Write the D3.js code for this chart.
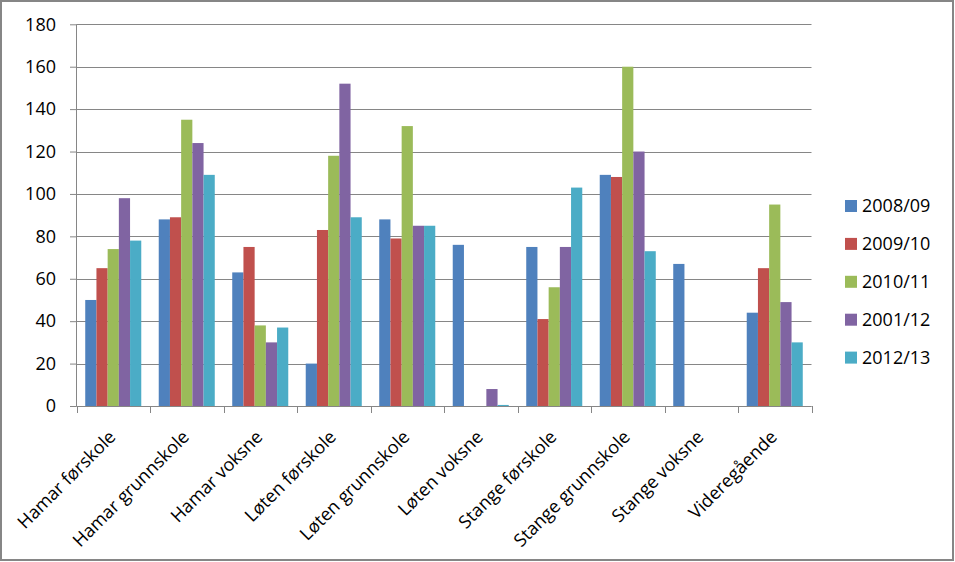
<!DOCTYPE html>
<html>
<head>
<meta charset="utf-8">
<script src="https://d3js.org/d3.v7.min.js"></script>
<style>
    body { margin: 0; background: #fff; }
    svg { display: block; }
    text { font-family: "Open Sans", sans-serif; font-size: 18px; fill: #000; }
</style>
</head>
<body>
<div class="canvas"><svg width="955" height="562"></svg></div>
<script>
    var width = 955;
    var height = 562;

    // data
    var categories = ["Hamar førskole", "Hamar grunnskole", "Hamar voksne", "Løten førskole",
        "Løten grunnskole", "Løten voksne", "Stange førskole", "Stange grunnskole",
        "Stange voksne", "Videregående"];
    var seriesNames = ["2008/09", "2009/10", "2010/11", "2001/12", "2012/13"];
    var s2008 = [50, 88, 63, 20, 88, 76, 75, 109, 67, 44];
    var s2009 = [65, 89, 75, 83, 79, 0, 41, 108, 0, 65];
    var s2010 = [74, 135, 38, 118, 132, 0, 56, 160, 0, 95];
    var s2001 = [98, 124, 30, 152, 85, 8, 75, 120, 0, 49];
    var s2012 = [78, 109, 37, 89, 85, 0.5, 103, 73, 0, 30];
    var yTicks = [0, 20, 40, 60, 80, 100, 120, 140, 160, 180];
    var colors = ["#4F81BD", "#C0504D", "#9BBB59", "#8064A2", "#4BACC6"];

    var allSeries = [s2008, s2009, s2010, s2001, s2012];

    var svg = d3.select(".canvas").select("svg");

    // outer frame
    svg.append("rect")
        .attr("x", 1).attr("y", 1)
        .attr("width", width - 3).attr("height", height - 3)
        .style("fill", "#fff")
        .style("stroke", "#868686")
        .style("stroke-width", 2);

    var plotLeft = 76.5, plotRight = 811.5, plotTop = 24.3, plotBottom = 406;

    var scaleX = d3.scaleBand()
        .domain(categories)
        .range([plotLeft, plotRight])
        .padding(0);

    var scaleSeries = d3.scaleBand()
        .domain(seriesNames)
        .range([0, scaleX.bandwidth()])
        .paddingInner(0)
        .paddingOuter(0.78);

    var scaleY = d3.scaleLinear()
        .domain([0, 180])
        .range([plotBottom, plotTop]);

    var scaleColor = d3.scaleOrdinal()
        .domain(seriesNames)
        .range(colors);

    // gridlines + y axis
    var axisY = d3.axisLeft()
        .scale(scaleY)
        .tickValues(yTicks)
        .tickSize(6.5)
        .tickPadding(14);

    svg.append("g").attr("class", "grid")
        .selectAll("line")
        .data(yTicks)
        .enter()
        .append("line")
        .attr("x1", plotLeft)
        .attr("x2", plotRight)
        .attr("y1", function(d){ return Math.round(scaleY(d)) + 0.5; })
        .attr("y2", function(d){ return Math.round(scaleY(d)) + 0.5; })
        .style("stroke", "#868686")
        .style("stroke-width", 1);

    var gy = svg.append("g").attr("class", "axis axis-y")
        .attr("transform", "translate(" + plotLeft + ",0)")
        .call(axisY);
    gy.select(".domain").remove();
    gy.selectAll("line").style("stroke", "#868686");
    gy.selectAll("text").style("font-family", "'Open Sans', sans-serif").style("font-size", "18px").attr("fill", "#000");

    gy.append("line")
        .attr("x1", 0).attr("x2", 0)
        .attr("y1", plotTop).attr("y2", plotBottom)
        .style("stroke", "#868686");

    // bars
    var rows = [];
    categories.forEach(function(c, i){
        seriesNames.forEach(function(s, j){
            rows.push({cat: c, series: s, value: allSeries[j][i]});
        });
    });

    svg.append("g").attr("class", "bars")
        .selectAll("rect")
        .data(rows)
        .enter()
        .append("rect")
        .attr("x", function(d){ return scaleX(d.cat) + scaleSeries(d.series); })
        .attr("width", scaleSeries.bandwidth())
        .attr("y", function(d){ return scaleY(d.value); })
        .attr("height", function(d){ return plotBottom - scaleY(d.value); })
        .style("fill", function(d){ return scaleColor(d.series); });

    // x axis: ticks at band edges, rotated labels
    var gx = svg.append("g").attr("class", "axis axis-x");
    gx.append("line")
        .attr("x1", plotLeft).attr("x2", plotRight)
        .attr("y1", plotBottom + 0.5).attr("y2", plotBottom + 0.5)
        .style("stroke", "#868686");

    var edges = categories.map(function(c){ return scaleX(c); }).concat([plotRight]);
    gx.selectAll(".tick-edge")
        .data(edges)
        .enter()
        .append("line").attr("class", "tick-edge")
        .attr("x1", function(d){ return Math.round(d) + 0.5; })
        .attr("x2", function(d){ return Math.round(d) + 0.5; })
        .attr("y1", plotBottom)
        .attr("y2", plotBottom + 7)
        .style("stroke", "#868686");

    gx.selectAll(".label")
        .data(categories)
        .enter()
        .append("text").attr("class", "label")
        .attr("transform", function(d){
            var cx = scaleX(d) + scaleX.bandwidth() / 2 + 3.5;
            return "translate(" + cx + "," + (plotBottom + 32) + ") rotate(-45)";
        })
        .attr("text-anchor", "end")
        .text(function(d){ return d; });

    // legend
    var legend = svg.append("g").attr("class", "legend")
        .attr("transform", "translate(845,200)");

    var item = legend.selectAll(".item")
        .data(seriesNames)
        .enter()
        .append("g").attr("class", "item")
        .attr("transform", function(d, i){ return "translate(0," + (i * 37.9) + ")"; });

    item.append("rect")
        .attr("width", 12).attr("height", 12)
        .style("fill", function(d){ return scaleColor(d); });

    item.append("text")
        .attr("x", 17)
        .attr("y", 6)
        .attr("dy", "0.35em")
        .text(function(d){ return d; });
</script>
</body>
</html>
